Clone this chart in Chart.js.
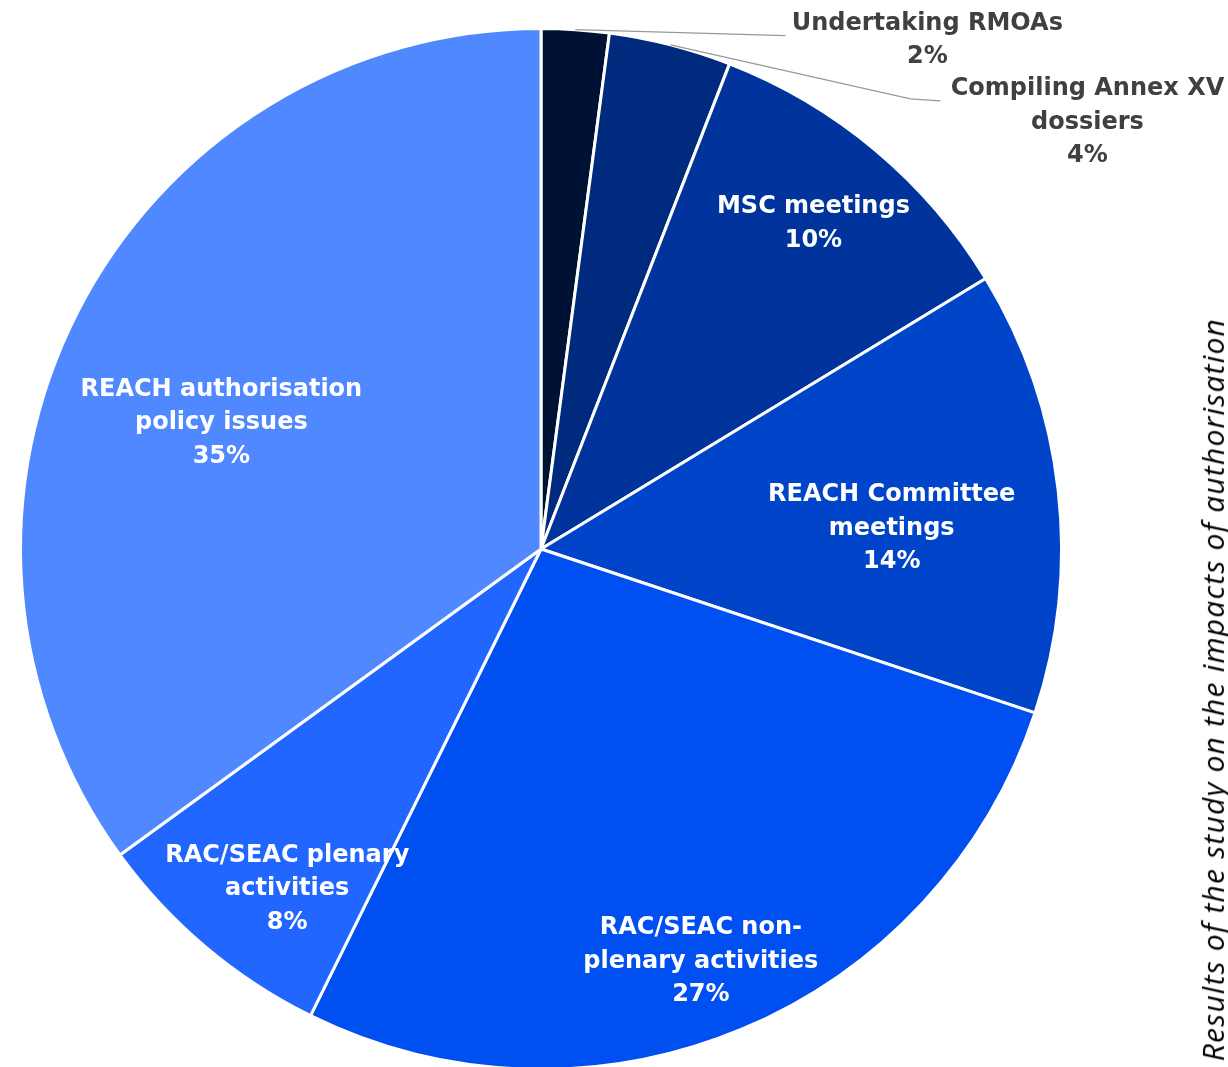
<!DOCTYPE html>
<html>
<head>
<meta charset="utf-8">
<script src="https://cdn.jsdelivr.net/npm/chart.js@4/dist/chart.umd.min.js"></script>
<style>
  html, body { margin: 0; padding: 0; background: #fff; width: 1228px; height: 1067px; overflow: hidden; }
  #wrap { position: relative; width: 1228px; height: 1100px; }
  #side {
    position: absolute; left: 1191px; top: 318px;
    writing-mode: vertical-rl; transform: rotate(180deg);
    font-family: "Open Sans", sans-serif; font-style: italic; font-weight: 400;
    font-size: 30px; letter-spacing: 1.2px; line-height: 44px; color: #000; white-space: nowrap;
  }
</style>
</head>
<body>
<div id="wrap">
  <canvas id="c" width="1228" height="1100"></canvas>
  <div id="side">Results of the study on the impacts of authorisation</div>
</div>
<script>
const categories = [
  'Undertaking RMOAs',
  'Compiling Annex XV dossiers',
  'MSC meetings',
  'REACH Committee meetings',
  'RAC/SEAC non-plenary activities',
  'RAC/SEAC plenary activities',
  'REACH authorisation policy issues'
];
const shares = [2.1, 3.8, 10.4, 13.8, 27.2, 7.7, 35.0];
const labelLines = [
  ['Undertaking RMOAs'],
  ['Compiling Annex XV', 'dossiers'],
  ['MSC meetings'],
  ['REACH Committee', 'meetings'],
  ['RAC/SEAC non-', 'plenary activities'],
  ['RAC/SEAC plenary', 'activities'],
  ['REACH authorisation', 'policy issues']
];
const sliceColors = ['#001233', '#002a7e', '#00339c', '#0044c9', '#004ff0', '#2166ff', '#4f88ff'];

// label placement (style/position settings, not data)
const inside = {
  2: { f: 0.815, da: 0 },
  3: { f: 0.675, da: 3.1 },
  4: { f: 0.85, da: 1.5 },
  5: { f: 0.815, da: -3.4 },
  6: { f: 0.66, da: -5.5 }
};
const outside = {
  0: { bend: [210, 6], end: [0, 0], tx: 142, ty: -12 },
  1: { bend: [240, 54], end: [30, 2], tx: 147, ty: -12 }
};
const LH = 33.5;
const FONT = 'bold 24px "DejaVu Sans", sans-serif';

const labelPlugin = {
  id: 'sliceLabels',
  afterDatasetsDraw(chart) {
    const ctx = chart.ctx;
    const meta = chart.getDatasetMeta(0);
    const total = shares.reduce((a, b) => a + b, 0);
    meta.data.forEach((arc, i) => {
      const p = arc.getProps(['x', 'y', 'startAngle', 'endAngle', 'outerRadius'], true);
      const mid = (p.startAngle + p.endAngle) / 2;
      const pct = Math.round(shares[i] / total * 100) + '%';
      const lines = labelLines[i].concat([pct]);
      ctx.save();
      ctx.textAlign = 'center';
      ctx.textBaseline = 'middle';
      ctx.font = FONT;
      if (inside[i]) {
        const a = mid + inside[i].da * Math.PI / 180;
        const r = p.outerRadius * inside[i].f;
        const cx = p.x + Math.cos(a) * r;
        const cy = p.y + Math.sin(a) * r;
        ctx.fillStyle = '#ffffff';
        const y0 = cy - (lines.length - 1) * LH / 2;
        lines.forEach((t, k) => ctx.fillText(t, cx, y0 + k * LH));
      } else {
        const o = outside[i];
        const ex = p.x + Math.cos(mid) * p.outerRadius;
        const ey = p.y + Math.sin(mid) * p.outerRadius;
        const bx = ex + o.bend[0], by = ey + o.bend[1];
        const lx = bx + o.end[0], ly = by + o.end[1];
        ctx.strokeStyle = '#999999';
        ctx.lineWidth = 1.2;
        ctx.beginPath();
        ctx.moveTo(ex, ey);
        ctx.lineTo(bx, by);
        ctx.lineTo(lx, ly);
        ctx.stroke();
        ctx.fillStyle = '#404040';
        const cx = lx + o.tx;
        lines.forEach((t, k) => ctx.fillText(t, cx, ly + o.ty + k * LH));
      }
      ctx.restore();
    });
  }
};

new Chart(document.getElementById('c'), {
  type: 'pie',
  data: {
    labels: categories,
    datasets: [{
      data: shares,
      backgroundColor: sliceColors,
      borderColor: '#ffffff',
      borderWidth: 3
    }]
  },
  options: {
    responsive: false,
    animation: false,
    layout: { padding: { left: 19, top: 27, right: 165, bottom: 29 } },
    plugins: { legend: { display: false }, tooltip: { enabled: false } }
  },
  plugins: [labelPlugin]
});
</script>
</body>
</html>
